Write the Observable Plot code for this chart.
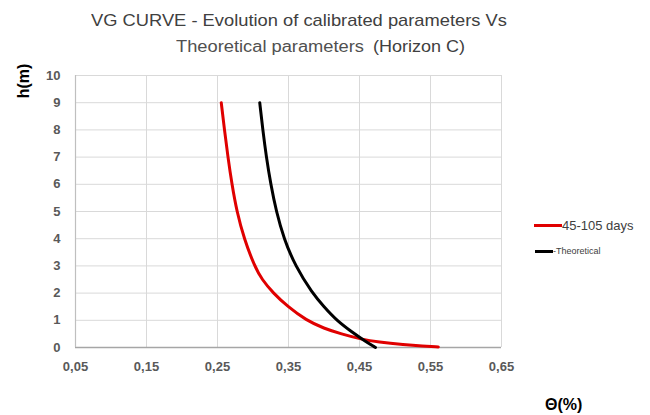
<!DOCTYPE html>
<html><head><meta charset="utf-8">
<script src="https://cdn.jsdelivr.net/npm/d3@7"></script>
<script src="https://cdn.jsdelivr.net/npm/@observablehq/plot@0.6"></script>
<style>
body{margin:0;background:#fff;font-family:"Liberation Sans",Arial,sans-serif;}
#wrap{position:relative;width:650px;height:415px;}
.t{position:absolute;white-space:nowrap;color:#404040;line-height:1;}
</style></head><body>
<div id="wrap"></div>
<script>
const title1 = "VG CURVE - Evolution of calibrated parameters Vs";
const title2 = "Theoretical parameters";
const title3 = "(Horizon C)";
const yLabel = "h(m)";
const xLabel = "Θ(%)";
const seriesNames = ["45-105 days", "-Theoretical"];
const xTicks = [0.05, 0.15, 0.25, 0.35, 0.45, 0.55, 0.65];
const yTicks = [0,1,2,3,4,5,6,7,8,9,10];
const hRed = [9, 8, 7, 6, 5, 4, 3, 2.5, 2, 1.5, 1, 0.7, 0.5, 0.3, 0.2, 0.1, 0.05, 0.02];
const thetaRed = [0.2553, 0.2598, 0.2647, 0.2703, 0.2772, 0.2875, 0.302, 0.3125, 0.3285, 0.349, 0.375, 0.400, 0.424, 0.453, 0.476, 0.513, 0.539, 0.561];
const hBlack = [9, 8, 7, 6, 5, 4, 3, 2, 1.5, 1, 0.5, 0.25, 0];
const thetaBlack = [0.3095, 0.3138, 0.3188, 0.3250, 0.3328, 0.3435, 0.3595, 0.3835, 0.400, 0.4175, 0.443, 0.457, 0.4725];

const red = d3.sort(hRed.map((h,i)=>({h, t: thetaRed[i]})), d => d.h);
const black = d3.sort(hBlack.map((h,i)=>({h, t: thetaBlack[i]})), d => d.h);
const fmt = d => d.toFixed(2).replace(".", ",");

const plot = Plot.plot({
  width: 650, height: 415,
  marginLeft: 75, marginRight: 149, marginTop: 75, marginBottom: 68,
  style: {fontFamily: '"Liberation Sans", Arial, sans-serif', fontSize: "13px", color: "#595959", background: "#fff"},
  x: {domain: [0.05, 0.65], label: null},
  y: {domain: [0, 10], label: null},
  marks: [
    Plot.gridX(xTicks, {stroke: "#d9d9d9", strokeOpacity: 1, strokeWidth: 1}),
    Plot.gridY(yTicks, {stroke: "#d9d9d9", strokeOpacity: 1, strokeWidth: 1}),
    Plot.ruleY([0], {stroke: "#a6a6a6", strokeWidth: 1.5}),
    Plot.ruleX([0.05], {stroke: "#bfbfbf", strokeWidth: 1.2}),
    Plot.axisX({ticks: xTicks, tickFormat: fmt, tickSize: 0, tickPadding: 14, fontWeight: "bold", fill: "#595959", label: null}),
    Plot.axisY({ticks: yTicks, tickSize: 0, tickPadding: 15, fontWeight: "bold", fill: "#595959", label: null}),
    Plot.line(red, {x: "t", y: "h", stroke: "#e00000", strokeWidth: 3, curve: "basis"}),
    Plot.line(black, {x: "t", y: "h", stroke: "#000", strokeWidth: 3, curve: "basis"})
  ]
});
const wrap = document.getElementById("wrap");
wrap.appendChild(plot);
function add(text, x, y, css){
  const d = document.createElement("div");
  d.className = "t"; d.textContent = text;
  d.style.left = x + "px"; d.style.top = y + "px";
  Object.assign(d.style, css||{});
  wrap.appendChild(d);
  return d;
}
function fitWidth(el, w){
  const r = el.getBoundingClientRect().width;
  el.style.transformOrigin = "left center";
  el.style.transform = "scaleX(" + (w / r) + ")";
}
const t1 = add(title1, 91, 12, {fontSize: "17px"});
fitWidth(t1, 416);
const t2 = add(title2, 176, 39, {fontSize: "16px", color: "#505050"});
fitWidth(t2, 188);
const t3 = add(title3, 373, 39, {fontSize: "16px"});
fitWidth(t3, 92);
add(yLabel, 23.5, 81, {fontSize: "16px", fontWeight: "bold", color: "#000", transform: "translate(-50%,-50%) rotate(-90deg)"});
add(xLabel, 545, 397, {fontSize: "16px", fontWeight: "bold", color: "#000"});
// legend
add("", 534, 224, {width: "28px", height: "3px", background: "#e00000"});
add(seriesNames[0], 562, 219, {fontSize: "13px"});
add("", 535, 250, {width: "18px", height: "3px", background: "#000"});
add(seriesNames[1], 553, 247, {fontSize: "9px"});
</script>
</body></html>
